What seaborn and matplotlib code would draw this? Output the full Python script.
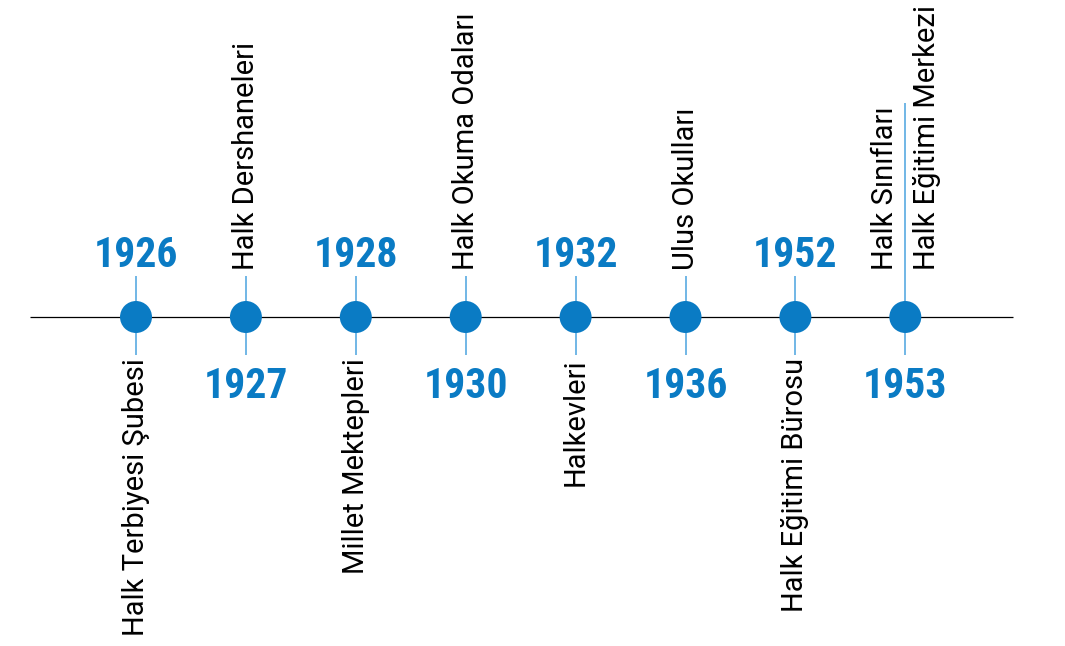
import pandas as pd
import seaborn as sns
import matplotlib.pyplot as plt
from matplotlib.transforms import offset_copy

# Timeline data
years = [1926, 1927, 1928, 1930, 1932, 1936, 1952, 1953]
labels = [
    ["Halk Terbiyesi Şubesi"],
    ["Halk Dershaneleri"],
    ["Millet Mektepleri"],
    ["Halk Okuma Odaları"],
    ["Halkevleri"],
    ["Ulus Okulları"],
    ["Halk Eğitimi Bürosu"],
    ["Halk Sınıfları", "Halk Eğitimi Merkezi"],
]

df = pd.DataFrame({"year": years, "pos": range(len(years)), "y": 0})

blue = "#0a7bc4"
stem_blue = "#4aa3df"
year_font = ["Roboto Condensed", "DejaVu Sans"]

sns.set_theme(style="white")
plt.rcParams["font.family"] = ["Roboto", "DejaVu Sans"]

fig = plt.figure(figsize=(10.65, 6.46), dpi=100)
ax = fig.add_axes([0, 0, 1, 1])
ax.set_xlim(-1.2375, 8.453)
ax.set_ylim(-329, 317)
ax.axis("off")

# main line
ax.hlines(0, -0.965, 7.98, color="black", linewidth=0.9, zorder=1)

for i, row in df.iterrows():
    up = i % 2 == 1  # labels above on odd events, year above on even ones
    top = 214 if len(labels[i]) > 1 else 41
    ax.vlines(row["pos"], -38, top, color=stem_blue, linewidth=1.1, zorder=2)

    if up:
        ax.text(row["pos"], -81, str(row["year"]), color=blue, fontsize=30,
                fontweight="bold", ha="center", va="baseline", family=year_font)
        names = labels[i]
        if len(names) == 1:
            ax.text(row["pos"], 47, names[0], rotation=90, fontsize=21,
                    ha="center", va="bottom", color="black")
        else:
            for k, name in enumerate(names):
                dx = -14.4 if k == 0 else 15.5
                tr = offset_copy(ax.transData, fig=fig, x=dx, y=0, units="points")
                ax.text(row["pos"], 47, name, rotation=90, fontsize=21,
                        ha="center", va="bottom", color="black", transform=tr)
    else:
        ax.text(row["pos"], 50, str(row["year"]), color=blue, fontsize=30,
                fontweight="bold", ha="center", va="baseline", family=year_font)
        ax.text(row["pos"], -41, labels[i][0], rotation=90, fontsize=21,
                ha="center", va="top", color="black")

sns.scatterplot(data=df, x="pos", y="y", s=530, color=blue, edgecolor="none",
                ax=ax, zorder=3, legend=False)
ax.set_xlim(-1.2375, 8.453)
ax.set_ylim(-329, 317)

fig.savefig("out.png", dpi=100)
